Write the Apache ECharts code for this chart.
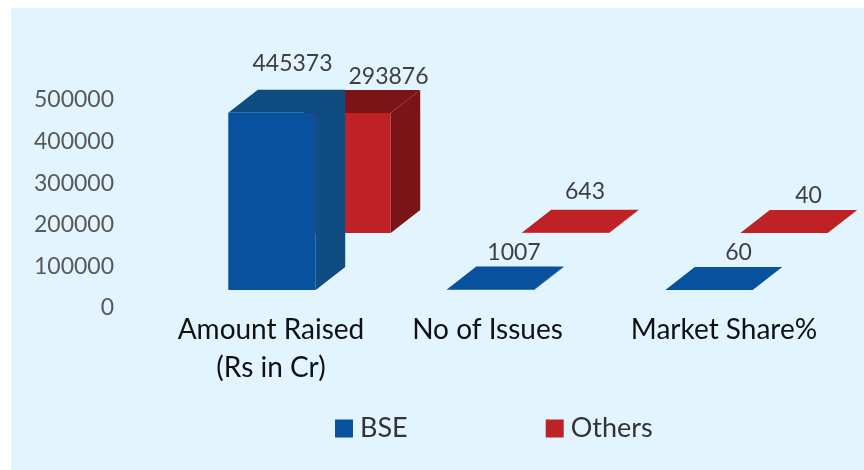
<!DOCTYPE html>
<html>
<head>
<meta charset="utf-8">
<title>BSE vs Others</title>
<style>
  html, body { margin: 0; padding: 0; background: #fff; }
  #chart { width: 864px; height: 470px; }
</style>
<script src="https://cdn.jsdelivr.net/npm/echarts@6/dist/echarts.min.js"></script>
</head>
<body>
<div id="chart"></div>
<script>
const categories = ['Amount Raised\n(Rs in Cr)', 'No of Issues', 'Market Share%'];
const bseValues = [445373, 1007, 60];
const othersValues = [293876, 643, 40];
const axisTicks = [0, 100000, 200000, 300000, 400000, 500000];

// hand placed data labels in the original, [dx, dy] from the middle of the top back edge
const bseLabelNudge = [[-9, -26], [-6, -14], [0, -14]];
const othersLabelNudge = [[12, -14], [-10, -18], [-5, -14]];
// category labels do not sit on the band centres either: [left, right] padding
const categoryPadding = [[0, 2], [0, 6], [30, 0]];

const FONT = 'Lato, "Noto Sans", sans-serif';
const DEPTH_X = 29.5;
const DEPTH_Y = 23;
const BAR_RATIO = 0.4;

const pair = (arr) => arr.map((v, i) => [i, v]);

// one 3D box: front face, right side and top, all placed from the axis scales
const boxRenderer = (front, shade, nudges) => (params, api) => {
  const idx = api.value(0);
  const base = api.coord([idx, 0]);
  const top = api.coord([idx, api.value(1)]);
  const w = api.size([1, 0])[0] * BAR_RATIO;
  const x0 = base[0] - w / 2;
  const x1 = base[0] + w / 2;
  const y0 = base[1];
  const y1 = top[1];
  // very flat boxes show their top in the front colour in the original
  const topColor = y0 - y1 > 2 ? shade : front;
  const poly = (points, fill) => ({
    type: 'polygon',
    shape: { points: points },
    style: { fill: fill }
  });
  const nudge = nudges[idx];
  return {
    type: 'group',
    children: [
      poly([[x1, y0], [x1 + DEPTH_X, y0 - DEPTH_Y], [x1 + DEPTH_X, y1 - DEPTH_Y], [x1, y1]], shade),
      poly([[x0, y1], [x1, y1], [x1 + DEPTH_X, y1 - DEPTH_Y], [x0 + DEPTH_X, y1 - DEPTH_Y]], topColor),
      poly([[x0, y0], [x1, y0], [x1, y1], [x0, y1]], front),
      {
        type: 'text',
        style: {
          text: String(api.value(1)),
          x: base[0] + DEPTH_X + nudge[0],
          y: y1 - DEPTH_Y + nudge[1],
          fill: '#404040',
          font: '23px ' + FONT,
          align: 'center',
          verticalAlign: 'middle'
        }
      }
    ]
  };
};

const hiddenValueAxis = (gridIndex) => ({
  type: 'value', gridIndex: gridIndex, min: 0, max: 500000, show: false
});

let myChart = echarts.init(document.getElementById('chart'));
let option = {
  animation: false,
  graphic: [{
    type: 'rect',
    z: -10,
    shape: { x: 11, y: 8, width: 853, height: 462 },
    style: { fill: '#E2F4FD' }
  }],
  legend: {
    left: 335,
    top: 415,
    padding: 0,
    itemWidth: 18,
    itemHeight: 18,
    itemGap: 138,
    textStyle: { color: '#333333', fontSize: 27, fontFamily: FONT, padding: [0, 0, 0, 2] },
    data: [{ name: 'BSE', icon: 'rect' }, { name: 'Others', icon: 'rect' }]
  },
  grid: [
    // visible value labels
    { left: 115, top: 100, width: 40, height: 208, outerBoundsMode: 'none' },
    // front row (BSE)
    { left: 162.75, top: 91, width: 655.5, height: 199, outerBoundsMode: 'none' },
    // back row (Others), runs past the canvas on the right like the empty half band does
    { left: 237.75, top: 29, width: 655.5, height: 204, outerBoundsMode: 'none' }
  ],
  xAxis: [
    { type: 'category', gridIndex: 0, data: categories, show: false },
    {
      type: 'category',
      gridIndex: 1,
      data: categories.map((c, i) => ({
        value: c,
        textStyle: { padding: [0, categoryPadding[i][1], 0, categoryPadding[i][0]] }
      })),
      axisLine: { show: false },
      axisTick: { show: false },
      axisLabel: {
        interval: 0,
        margin: 21,
        color: '#111111',
        fontSize: 28,
        lineHeight: 38,
        fontFamily: FONT
      }
    },
    { type: 'category', gridIndex: 2, data: categories, show: false }
  ],
  yAxis: [
    {
      type: 'value',
      gridIndex: 0,
      min: 0,
      max: axisTicks[axisTicks.length - 1],
      interval: axisTicks[1],
      axisLine: { show: false },
      axisTick: { show: false },
      splitLine: { show: false },
      axisLabel: { margin: 1, color: '#595959', fontSize: 23, fontFamily: FONT, formatter: (v) => String(v) }
    },
    hiddenValueAxis(1),
    hiddenValueAxis(2)
  ],
  series: [
    {
      name: 'BSE',
      type: 'custom',
      xAxisIndex: 1,
      yAxisIndex: 1,
      z: 3,
      clip: false,
      itemStyle: { color: '#07519E' },
      encode: { x: 0, y: 1 },
      renderItem: boxRenderer('#07519E', '#0F4C81', bseLabelNudge),
      data: pair(bseValues)
    },
    {
      name: 'Others',
      type: 'custom',
      xAxisIndex: 2,
      yAxisIndex: 2,
      z: 2,
      clip: false,
      itemStyle: { color: '#BE2126' },
      encode: { x: 0, y: 1 },
      renderItem: boxRenderer('#BE2126', '#7B1416', othersLabelNudge),
      data: pair(othersValues)
    }
  ]
};
myChart.setOption(option);
</script>
</body>
</html>
